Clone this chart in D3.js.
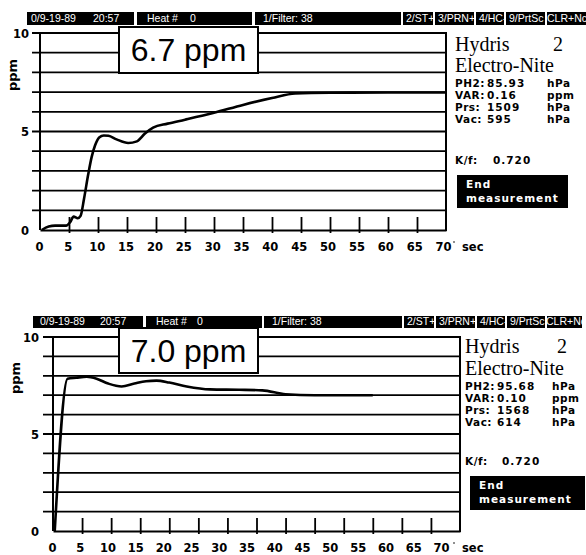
<!DOCTYPE html>
<html><head><meta charset="utf-8">
<script src="https://cdn.jsdelivr.net/npm/d3@7"></script>
<style>
html,body{margin:0;padding:0;background:#fff;}
svg{display:block;}
</style></head><body>
<svg id="chart" width="586" height="555"></svg>
<script>
// ---------------- data ----------------
const xTicks = [0, 5, 10, 15, 20, 25, 30, 35, 40, 45, 50, 55, 60, 65, 70];
const xTickMarks = [5, 10, 15, 20, 25, 30, 35, 40, 45, 50, 55, 60, 65];
const yTicks = [0, 5, 10];
const gridValues = [1, 2, 3, 4, 5, 6, 7, 8, 9, 10];

// top measurement (sec, ppm)
const timeA = [0.3, 1.5, 2.6, 4.5, 5.2, 5.8, 6.5, 7.0, 7.6, 8.3, 8.9, 9.5, 10.2, 11.0, 11.8, 13.2, 15.2, 16.7, 18.1, 19.5, 22, 25, 30, 35, 40, 44, 50, 60, 70];
const ppmA  = [0, 0.18, 0.22, 0.22, 0.4, 0.68, 0.6, 0.72, 1.6, 2.8, 3.7, 4.3, 4.7, 4.8, 4.78, 4.6, 4.42, 4.5, 4.9, 5.2, 5.4, 5.6, 5.95, 6.35, 6.7, 6.93, 6.97, 6.98, 6.98];
// bottom measurement (sec, ppm)
const timeB = [0.3, 2.5, 4, 5.8, 7.5, 9.5, 11.8, 14, 16, 17.8, 20, 23, 27, 32, 36, 40, 45, 50, 55];
const ppmB  = [0, 7.85, 7.9, 7.95, 7.85, 7.6, 7.45, 7.6, 7.72, 7.75, 7.65, 7.45, 7.3, 7.28, 7.25, 7.05, 7.0, 7.0, 7.0];

const headerSegments = [["0/9-19-89", "20:57"], ["Heat #", "0"], ["1/Filter: 38"], ["2/ST+"], ["3/PRN+"], ["4/HC-"], ["9/PrtSc"], ["CLR+Nc"]];
const resultA = "6.7 ppm";
const resultB = "7.0 ppm";
const brandTitle = ["Hydris", "2"];
const brandName = "Electro-Nite";
const readLabels = ["PH2:", "VAR:", "Prs:", "Vac:"];
const readValuesA = ["85.93", "0.16", "1509", "595"];
const readValuesB = ["95.68", "0.10", "1568", "614"];
const readUnits = ["hPa", "ppm", "hPa", "hPa"];
const kfLabel = "K/f:";
const kfA = "0.720";
const kfB = "0.720";
const endText = ["End", "measurement"];

// ---------------- layout ----------------
const layouts = [
  { x0: 40, x70: 446, lx0: 39, lx70: 443, y0: 230, y10: 33, gridLeft: 32, ylabX: 29,
    ppm: [12, 75], tickBase: 251, sec: [462, 251],
    hdrY: [12, 25], hdr: [[27,134,[31,93]],[137,252,[147,190]],[255,401,[263]],[403,433,[406]],[435,474,[438]],[476,504,[479]],[506,545,[509]],[547,586,[547]]],
    box: [119, 27, 139, 46], boxBase: 61,
    rp: 455, hyd2: 553, hydY: 51, eleY: 72, rowY: [87, 99, 111, 123], valX: 487, unitX: 547, kfY: 164, kfX: 493,
    end: [457, 175, 111, 33] },
  { x0: 53, x70: 460, lx0: 52, lx70: 441, y0: 531, y10: 337, gridLeft: 43, ylabX: 39,
    ppm: [15, 378], tickBase: 552, sec: [462, 552],
    hdrY: [316, 328], hdr: [[33,143,[40,100]],[146,262,[156,197]],[264,402,[272]],[404,434,[407]],[436,475,[439]],[477,505,[480]],[507,545,[510]],[547,582,[546]]],
    box: [119, 328, 139, 45], boxBase: 362,
    rp: 465, hyd2: 557, hydY: 353, eleY: 375, rowY: [390, 402, 414, 426], valX: 497, unitX: 552, kfY: 465, kfX: 502,
    end: [470, 476, 115, 34] }
];

const svg = d3.select("#chart");
const boldFont = "'DejaVu Sans', sans-serif";

function drawPanel(L, times, values, result, readValues, kf) {
  const g = svg.append("g");
  const x = d3.scaleLinear().domain([0, 70]).range([L.x0, L.x70]);
  const xl = d3.scaleLinear().domain([0, 70]).range([L.lx0, L.lx70]);
  const y = d3.scaleLinear().domain([0, 10]).range([L.y0, L.y10]);

  // header bar
  const hg = g.append("g");
  L.hdr.forEach((seg, i) => {
    hg.append("rect").attr("x", seg[0]).attr("y", L.hdrY[0])
      .attr("width", seg[1] - seg[0]).attr("height", L.hdrY[1] - L.hdrY[0]).attr("fill", "#000");
    headerSegments[i].forEach((t, j) => {
      hg.append("text").attr("x", seg[2][j]).attr("y", L.hdrY[1] - 3)
        .attr("fill", "#fff").attr("font-family", "'Liberation Sans', Arial, sans-serif")
        .attr("font-size", 10.5).text(t);
    });
  });

  // grid lines
  g.append("g").selectAll("line").data(gridValues).join("line")
    .attr("x1", L.gridLeft).attr("x2", x(70))
    .attr("y1", d => y(d)).attr("y2", d => y(d))
    .attr("stroke", "#000").attr("stroke-width", 1.8);

  // frame: y axis, right edge
  g.append("line").attr("x1", x(0)).attr("x2", x(0)).attr("y1", y(10) - 1).attr("y2", y(0))
    .attr("stroke", "#000").attr("stroke-width", 2);
  g.append("line").attr("x1", x(70)).attr("x2", x(70)).attr("y1", y(10) - 1).attr("y2", y(0) + 1)
    .attr("stroke", "#000").attr("stroke-width", 2);

  // x axis with tick marks
  const xAxis = d3.axisBottom(x).tickValues(xTickMarks).tickSize(0).tickFormat("");
  const ax = g.append("g").attr("transform", `translate(0,${y(0)})`).call(xAxis);
  ax.select(".domain").attr("stroke", "#000").attr("stroke-width", 2.2);
  ax.selectAll(".tick line").attr("y1", -13).attr("y2", 3).attr("stroke", "#000").attr("stroke-width", 1.8);

  // x tick labels
  const xlAxis = d3.axisBottom(xl).tickValues(xTicks).tickSize(0).tickFormat(d3.format("d"));
  const axl = g.append("g").attr("transform", `translate(0,${L.tickBase - 10})`).call(xlAxis);
  axl.select(".domain").remove();
  axl.selectAll("text").attr("font-family", boldFont).attr("font-weight", "bold")
    .attr("font-size", 11.5).attr("fill", "#000").attr("dy", 0).attr("y", 10);
  g.append("text").attr("x", L.sec[0]).attr("y", L.sec[1]).attr("font-family", boldFont)
    .attr("font-weight", "bold").attr("font-size", 11.5).text("sec");
  g.append("circle").attr("cx", L.sec[0] - 8).attr("cy", L.sec[1] - 9).attr("r", 0.8).attr("fill", "#000");

  // y tick labels
  const yAxis = d3.axisLeft(y).tickValues(yTicks).tickSize(0).tickFormat(d3.format("d"));
  const ay = g.append("g").attr("transform", `translate(${L.ylabX},0)`).call(yAxis);
  ay.select(".domain").remove();
  ay.selectAll("text").attr("font-family", boldFont).attr("font-weight", "bold")
    .attr("font-size", 11.5).attr("fill", "#000").attr("x", 0).attr("dy", "0.35em");

  g.append("text").attr("transform", `translate(${L.ppm[0]},${L.ppm[1]}) rotate(-90)`)
    .attr("text-anchor", "middle").attr("dy", "0.35em").attr("font-family", boldFont)
    .attr("font-weight", "bold").attr("font-size", 13).text("ppm");

  // measurement curve
  const line = d3.line().x((d, i) => x(times[i])).y(d => y(d)).curve(d3.curveMonotoneX);
  g.append("path").datum(values).attr("d", line).attr("fill", "none")
    .attr("stroke", "#000").attr("stroke-width", 2.6).attr("stroke-linejoin", "round");

  // result box
  g.append("rect").attr("x", L.box[0]).attr("y", L.box[1]).attr("width", L.box[2]).attr("height", L.box[3])
    .attr("fill", "#fff").attr("stroke", "#000").attr("stroke-width", 2);
  g.append("text").attr("x", L.box[0] + L.box[2] / 2).attr("y", L.boxBase).attr("text-anchor", "middle")
    .attr("font-family", "'Liberation Sans', Arial, sans-serif").attr("font-size", 32).text(result);

  // right panel
  const serif = "'Liberation Serif', 'Times New Roman', serif";
  g.append("text").attr("x", L.rp).attr("y", L.hydY).attr("font-family", serif).attr("font-size", 20).text(brandTitle[0]);
  g.append("text").attr("x", L.hyd2).attr("y", L.hydY).attr("font-family", serif).attr("font-size", 20).text(brandTitle[1]);
  g.append("text").attr("x", L.rp).attr("y", L.eleY).attr("font-family", serif).attr("font-size", 20).text(brandName);

  const rows = g.append("g").attr("font-family", boldFont).attr("font-weight", "bold").attr("font-size", 10.5);
  readLabels.forEach((lab, i) => {
    rows.append("text").attr("x", L.rp).attr("y", L.rowY[i]).attr("letter-spacing", 0.5).text(lab);
    rows.append("text").attr("x", L.valX).attr("y", L.rowY[i]).attr("letter-spacing", 1).text(readValues[i]);
    rows.append("text").attr("x", L.unitX).attr("y", L.rowY[i]).attr("letter-spacing", 0.5).text(readUnits[i]);
  });
  rows.append("text").attr("x", L.rp).attr("y", L.kfY).attr("letter-spacing", 0.5).text(kfLabel);
  rows.append("text").attr("x", L.kfX).attr("y", L.kfY).attr("letter-spacing", 1).text(kf);

  g.append("rect").attr("x", L.end[0]).attr("y", L.end[1]).attr("width", L.end[2]).attr("height", L.end[3]).attr("fill", "#000");
  g.append("text").attr("x", L.end[0] + 9).attr("y", L.end[1] + 13).attr("fill", "#fff")
    .attr("font-family", boldFont).attr("font-weight", "bold").attr("font-size", 10.5).attr("letter-spacing", 1).text(endText[0]);
  g.append("text").attr("x", L.end[0] + 9).attr("y", L.end[1] + 27).attr("fill", "#fff")
    .attr("font-family", boldFont).attr("font-weight", "bold").attr("font-size", 10.5).attr("letter-spacing", 1).text(endText[1]);
}

drawPanel(layouts[0], timeA, ppmA, resultA, readValuesA, kfA);
drawPanel(layouts[1], timeB, ppmB, resultB, readValuesB, kfB);
</script>
</body></html>
